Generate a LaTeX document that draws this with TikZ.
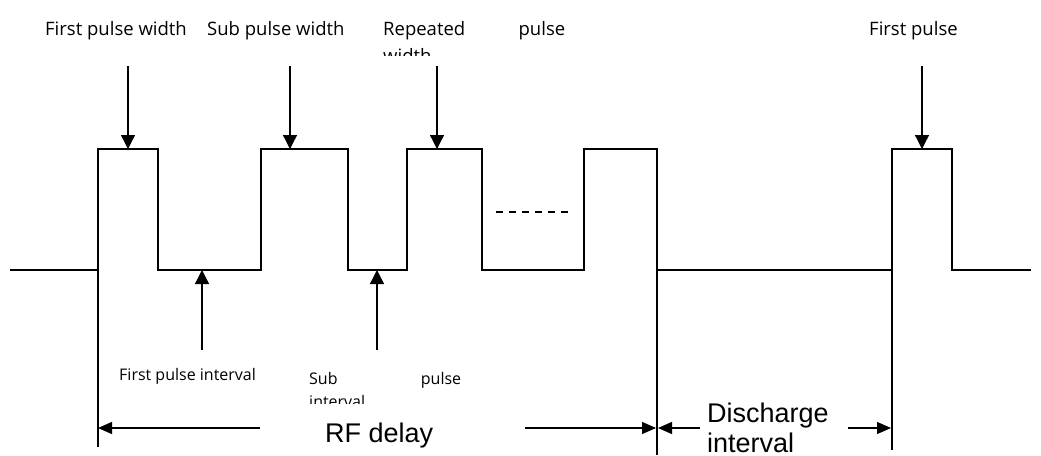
\documentclass[tikz,border=0pt]{standalone}
\usepackage{fontspec}
\setmainfont{Open Sans}
\newfontfamily\arialfont{Liberation Sans}
\usetikzlibrary{arrows.meta}

\begin{document}
\begin{tikzpicture}[x=1pt, y=-1pt,
        wave/.style={line width=1.8pt, line join=miter},
        pointer/.style={line width=1.3pt, -{Triangle[length=14pt,width=14pt]}},
        span/.style={line width=1.3pt, -{Triangle[length=14pt,width=12pt]}},
        edge/.style={line width=1.3pt},
        small/.style={inner sep=0pt, font=\fontsize{18.5}{27}\selectfont},
        tiny/.style={inner sep=0pt, font=\fontsize{16}{23}\selectfont},
        big/.style={inner sep=0pt, font=\arialfont\fontsize{27}{30}\selectfont}]
        \useasboundingbox (0,0) rectangle (1041,455);

        % Define low and high level of the pulse train
        \def\low{270}
        \def\high{149}

        % Draw the pulse train
        \draw[wave] (10,\low) -- (98,\low) -- (98,\high) -- (158,\high) -- (158,\low)
            -- (261,\low) -- (261,\high) -- (348,\high) -- (348,\low)
            -- (407,\low) -- (407,\high) -- (482,\high) -- (482,\low)
            -- (584,\low) -- (584,\high) -- (657,\high) -- (657,\low)
            -- (892,\low) -- (892,\high) -- (952,\high) -- (952,\low) -- (1031,\low);
        \draw[edge, dash pattern=on 7pt off 6pt] (496,212) -- (570,212);

        % Pulse tops and gaps
        \coordinate (top1) at (128,\high);
        \coordinate (top2) at (290,\high);
        \coordinate (top3) at (437,\high);
        \coordinate (top5) at (922,\high);
        \coordinate (gap1) at (202,\low);
        \coordinate (gap2) at (377,\low);

        % Labels on top
        \node[small, anchor=base west] (fpw) at (45,35) {First pulse width};
        \node[small, anchor=base west] (spw) at (207,35) {Sub pulse width};
        \begin{scope}
            \clip (370,0) rectangle (600,55);
            \node[small, anchor=base west, align=left] (rpw) at (383,62)
                {\makebox[182pt][s]{Repeated\hfill pulse}\\width};
        \end{scope}
        \node[small, anchor=base west] (fp) at (869,35) {First pulse};

        \coordinate (from1) at (128,66);
        \coordinate (from2) at (290,66);
        \coordinate (from3) at (437,66);
        \coordinate (from5) at (922,66);
        \draw[pointer] (from1) -- (top1);
        \draw[pointer] (from2) -- (top2);
        \draw[pointer] (from3) -- (top3);
        \draw[pointer] (from5) -- (top5);

        % Labels below
        \coordinate (up1) at (202,350);
        \coordinate (up2) at (377,350);
        \draw[pointer] (up1) -- (gap1);
        \draw[pointer] (up2) -- (gap2);
        \node[tiny, anchor=base west] (fpi) at (119,380) {First pulse interval};
        \begin{scope}
            \clip (300,355) rectangle (480,403);
            \node[tiny, anchor=base west, align=left] (spi) at (309,407)
                {\makebox[152pt][s]{Sub\hfill pulse}\\interval};
        \end{scope}

        % Delay spans
        \coordinate (e1) at (98,\low);
        \coordinate (e4) at (657,\low);
        \coordinate (e5) at (892,\low);
        \draw[edge] (e1) -- (98,447);
        \draw[edge] (e4) -- (657,455);
        \draw[edge] (e5) -- (892,450);

        \node[big, anchor=base west] (rf) at (325,442) {RF delay};
        \node[big, anchor=base west, align=left] (dis) at (707,452) {Discharge\\interval};

        \draw[span] (260,428) -- (98,428);
        \draw[span] (525,428) -- (656,428);
        \draw[span] (700,428) -- (658,428);
        \draw[span] (848,428) -- (891,428);
    \end{tikzpicture}
\end{document}
